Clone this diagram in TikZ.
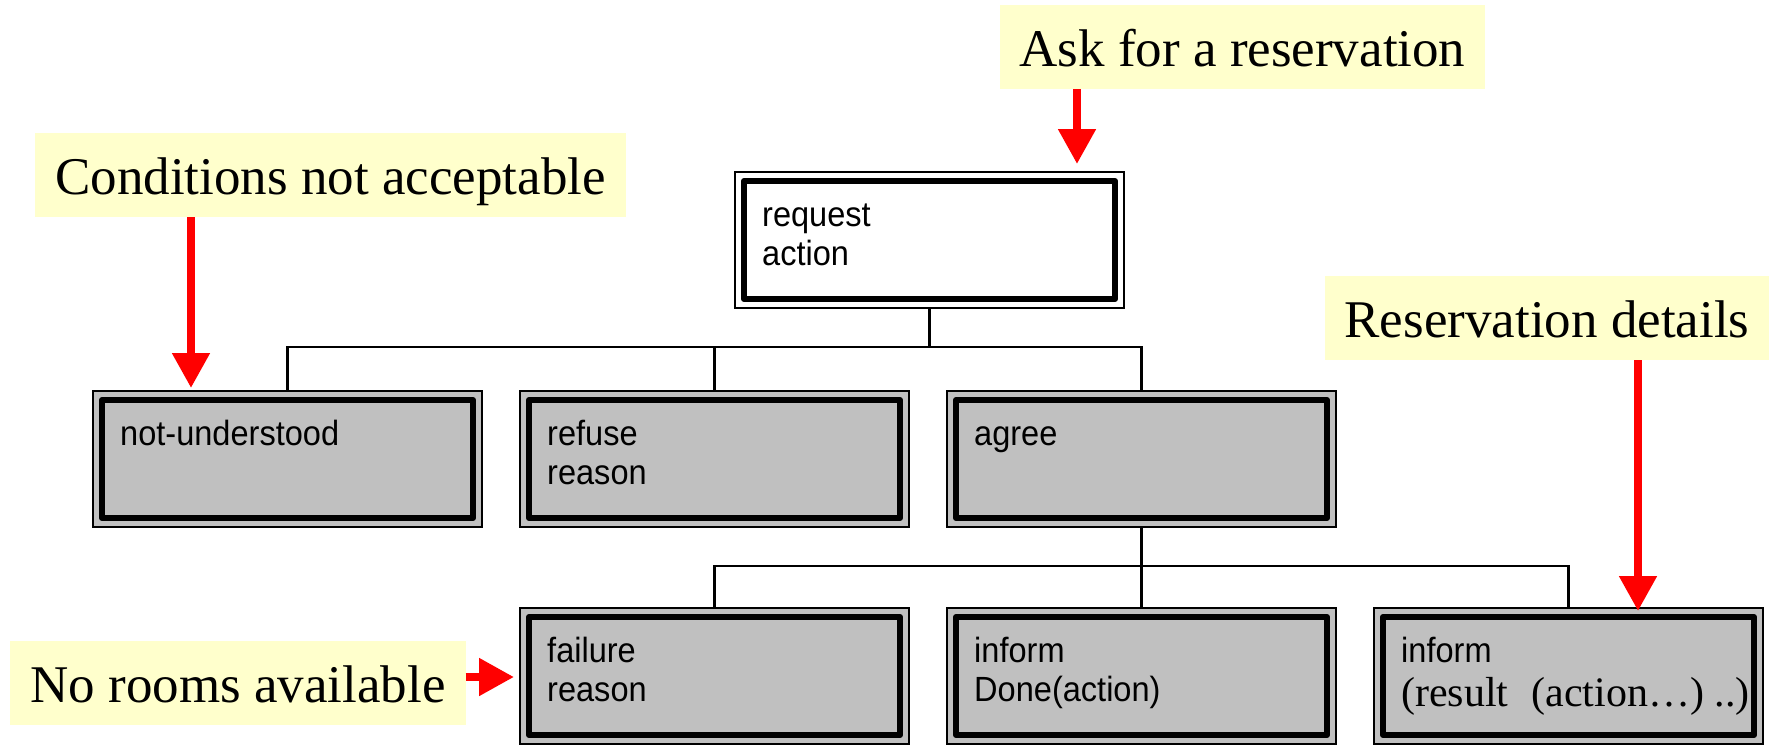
\documentclass[tikz,border=0pt]{standalone}
\usepackage{fontspec}
\setmainfont{Liberation Serif}
\newfontfamily\boxfont[FakeStretch=0.93]{Liberation Sans}
\usetikzlibrary{arrows.meta}
\definecolor{notefill}{HTML}{FFFFCC}
\definecolor{boxgray}{HTML}{C0C0C0}
\definecolor{arrowred}{HTML}{FF0000}

\tikzset{
  msgbox/.style={draw=black, line width=2.2pt, minimum width=389pt, minimum height=136pt,
    inner sep=0pt, outer sep=0pt, fill=boxgray},
  innerframe/.style={line width=6pt, line join=round},
  msgtext/.style={anchor=base west, align=left, inner sep=0pt,
    font=\boxfont\fontsize{35}{39}\selectfont},
  note/.style={fill=notefill, inner xsep=20pt, inner ysep=0pt, text height=61pt,
    text depth=23pt, font=\fontsize{53}{60}\selectfont, anchor=base},
  tree/.style={line width=2.5pt, draw=black},
  pointer/.style={draw=arrowred, line width=8pt, -{Triangle[width=36pt,length=35pt]}}
}

% thick inner border of a message box
\newcommand\msgframe[1]{%
  \draw[innerframe] ([shift={(9,9)}]#1.north west) rectangle ([shift={(-9,-9)}]#1.south east);}

\begin{document}
\begin{tikzpicture}[x=1pt,y=-1pt]
\useasboundingbox (0,0) rectangle (1769,745);

% connector buses
\coordinate (bus1) at (0,347);
\coordinate (bus2) at (0,566);

% message boxes
\node[msgbox, fill=white] (req) at (929.5,240) {};
\node[msgbox] (nu)   at (287.5,459) {};
\node[msgbox] (ref)  at (714.5,459) {};
\node[msgbox] (agr)  at (1141.5,459) {};
\node[msgbox] (fail) at (714.5,676) {};
\node[msgbox] (done) at (1141.5,676) {};
\node[msgbox] (res)  at (1568.5,676) {};

\msgframe{req}
\msgframe{nu}
\msgframe{ref}
\msgframe{agr}
\msgframe{fail}
\msgframe{done}
\msgframe{res}

% box contents (anchored on the baseline of the last line)
\node[msgtext] (reqT)  at ([shift={(27,93)}]req.north west)  {request\\action};
\node[msgtext] (nuT)   at ([shift={(27,54)}]nu.north west)   {not-understood};
\node[msgtext] (refT)  at ([shift={(27,93)}]ref.north west)  {refuse\\reason};
\node[msgtext] (agrT)  at ([shift={(27,54)}]agr.north west)  {agree};
\node[msgtext] (failT) at ([shift={(27,93)}]fail.north west) {failure\\reason};
\node[msgtext] (doneT) at ([shift={(27,93)}]done.north west) {inform\\Done(action)};
\node[msgtext] (resT)  at ([shift={(27,98)}]res.north west)
  {inform\\[5pt]{\rmfamily\fontsize{42}{44}\selectfont (result\hspace{23pt}(action…) ..)}};

% protocol tree
\draw[tree] (req.south) -- (req.south |- bus1);
\draw[tree, line join=miter] (nu.north) -- (nu.north |- bus1) -- (agr.north |- bus1) -- (agr.north);
\draw[tree] (ref.north) -- (ref.north |- bus1);
\draw[tree] (agr.south) -- (done.north);
\draw[tree, line join=miter] (fail.north) -- (fail.north |- bus2) -- (res.north |- bus2) -- (res.north);

% annotations
\node[note] (ask)     at (1242.5,66) {Ask for a reservation};
\node[note] (cond)    at (330.5,194) {Conditions not acceptable};
\node[note] (resv)    at (1547,337)  {Reservation details};
\node[note] (norooms) at (238,702)   {No rooms available};

\coordinate (askTip)   at (1077,164);
\coordinate (condTip)  at (191,388);
\coordinate (resvTip)  at (1638,611);
\coordinate (roomsTip) at (514,677);

\draw[pointer] (ask.south -| askTip) -- (askTip);
\draw[pointer] (cond.south -| condTip) -- (condTip);
\draw[pointer] (resv.south -| resvTip) -- (resvTip);
\draw[pointer] (norooms.east |- roomsTip) -- (roomsTip);
\end{tikzpicture}
\end{document}
